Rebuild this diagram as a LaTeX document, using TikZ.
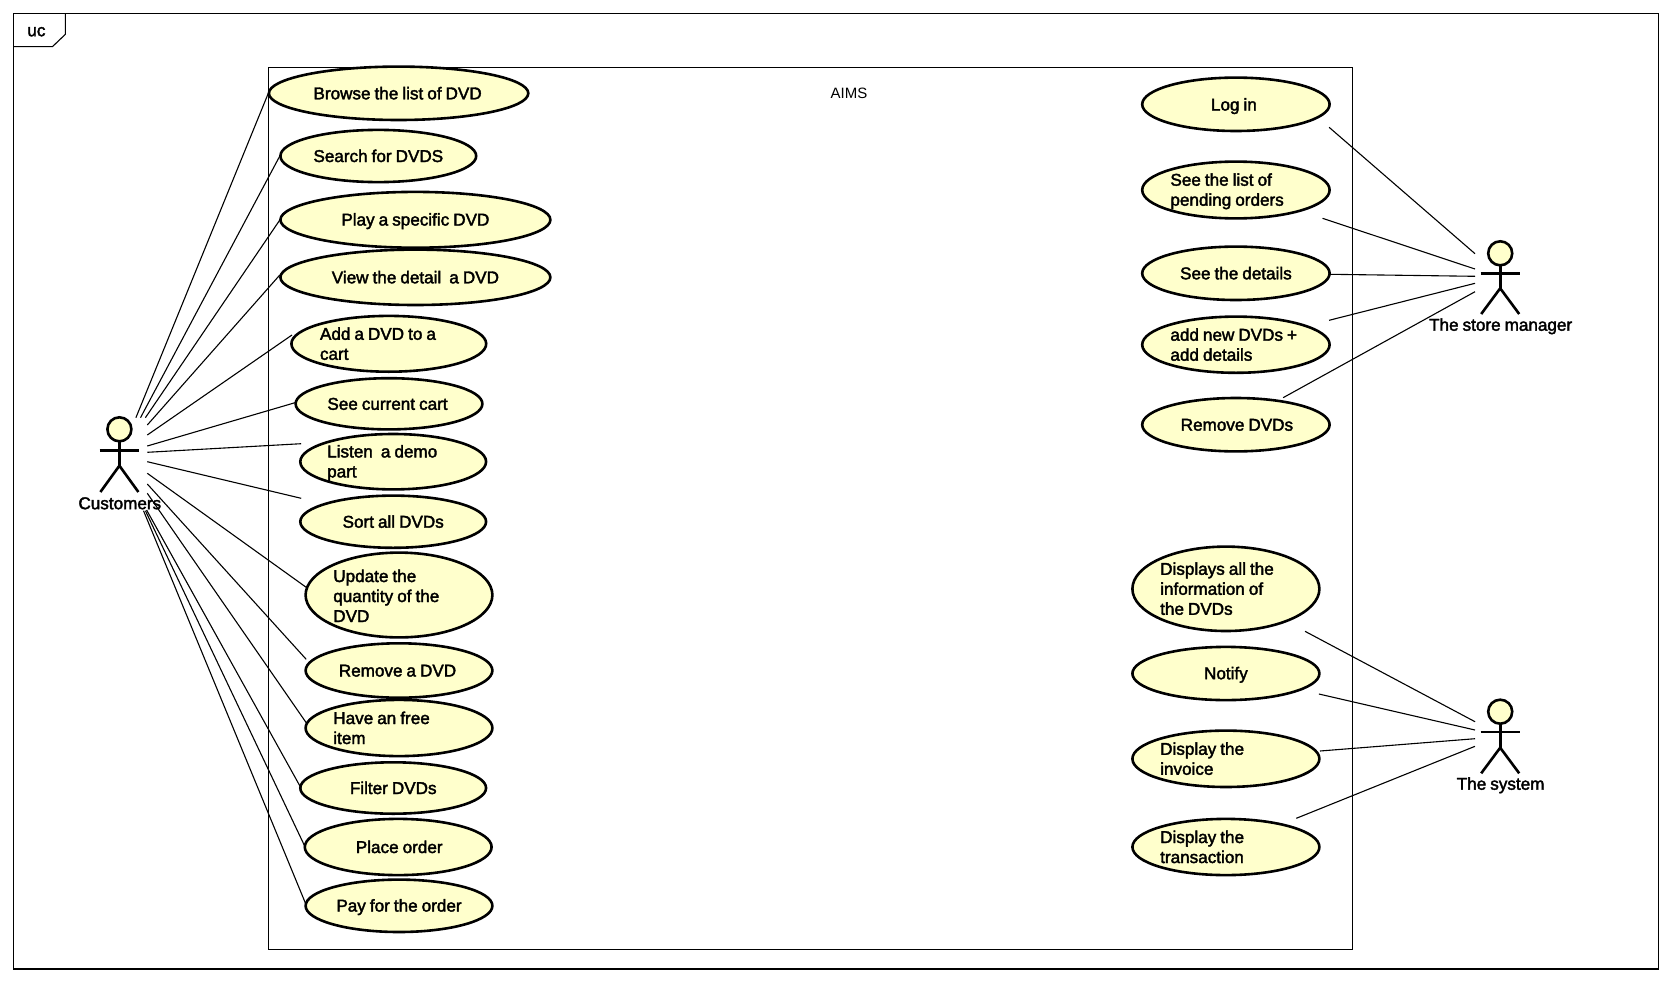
\documentclass[tikz,border=0pt]{standalone}
\usepackage{fontspec}
\usetikzlibrary{shapes.geometric}
\setmainfont{Liberation Sans}
\newfontfamily\lblfont[FakeBold=2.2,WordSpace=0.85]{Liberation Sans}
\definecolor{ucfill}{HTML}{FFFFCC}
\tikzset{
  x=1pt,y=-1pt,
  ucase/.style={ellipse,draw=black,fill=ucfill,line width=2.6pt,inner sep=-2pt,outer sep=0pt,
    font=\lblfont\fontsize{17.1}{20}\selectfont,text=black,
    execute at begin node={\rule{0pt}{15pt}},
    execute at end node={\rule[-3pt]{0pt}{3pt}}},
  mline/.style={align=flush left},
  wire/.style={line width=1.1pt,draw=black},
  limb/.style={line width=2.6pt,draw=black},
  head/.style={circle,draw=black,fill=ucfill,line width=2.6pt,minimum size=24pt,inner sep=0pt,outer sep=0pt},
  actorname/.style={font=\lblfont\fontsize{17.1}{20}\selectfont,text=black,inner sep=0pt},
  framebox/.style={line width=1.1pt,draw=black},
}
\newcommand{\usecase}[7][]{%
  \node[ucase,minimum width=#5*2pt-1.2pt,minimum height=#6*2pt-1.2pt,#1] (#2) at (#3,#4) {#7};}
\newcommand{\stickman}[6]{% name, x, head y, arm y, hip y, feet y
  \draw[limb] (#2,#3) -- (#2,#5);
  \draw[limb] (#2-19.7,#4) -- (#2+19.7,#4);
  \draw[limb] (#2-19,#6) -- (#2,#5) -- (#2+19,#6);
  \node[head] (#1) at (#2,#3) {};}
\newcommand{\link}[6]{\draw[wire] ([shift={(#2,#3)}]#1.center) -- ([shift={(#5,#6)}]#4.center);}
\begin{document}
\begin{tikzpicture}
\useasboundingbox (0,0) rectangle (1672,982);
% outer frame
\draw[framebox] (13.4,13.7) rectangle (1658.5,969);
\draw[framebox] (13.4,46.7) -- (52.4,46.7) -- (65.4,34.3) -- (65.4,13.7);
\node[font=\lblfont\fontsize{17.1}{20}\selectfont,inner sep=0pt] (uc) at (36.4,31.7) {uc};
% system boundary
\draw[framebox] (268.3,67.3) rectangle (1352.5,949.3);
\node[font=\fontsize{15}{20}\selectfont,inner sep=0pt] (aims) at (849,93.3) {AIMS};
% left use cases
\usecase{u1}{398.6}{93.3}{130.3}{27.3}{\kern-2pt Browse the list of DVD}
\usecase{u2}{378.3}{156}{98.5}{26.7}{Search for DVDS}
\usecase{u3}{415.4}{219.8}{135.6}{28.5}{Play a specific DVD}
\usecase{u4}{415.4}{277.3}{135.6}{28.3}{View the detail\ \ a DVD}
\usecase[mline,text width=137.6pt]{u5}{388.8}{343.8}{98}{28.5}{Add a DVD to a\\cart}
\usecase{u6}{389}{403.8}{94}{26.2}{\kern-3pt See current cart}
\usecase[mline,text width=132pt]{u7}{393.2}{461.7}{93.5}{28.3}{Listen\ \ a demo\\part}
\usecase{u8}{393.2}{521.7}{93.5}{26.7}{Sort all DVDs}
\usecase[mline,text width=131.4pt]{u9}{399}{595}{94}{43}{\rule{0pt}{17pt}Update the\\quantity of the\\DVD}
\usecase{u10}{399}{670.5}{94}{27.8}{\kern-3pt Remove a DVD}
\usecase[mline,text width=131.4pt]{u11}{399}{728}{94}{28.7}{Have an free\\item}
\usecase{u12}{393.2}{788}{93.5}{26.3}{Filter DVDs}
\usecase{u13}{398.2}{847}{94}{28.7}{\kern2pt Place order}
\usecase{u14}{399}{905.8}{94}{26.8}{Pay for the order}
% store manager use cases
\usecase{m1}{1235.9}{104.3}{94.3}{27.3}{\kern-4pt\raisebox{-1pt}{Log in}}
\usecase[mline,text width=131pt]{m2}{1235.9}{190}{94.3}{29}{See the list of\\pending orders}
\usecase{m3}{1235.9}{273.3}{94.3}{27.3}{See the details}
\usecase[mline,text width=131pt]{m4}{1235.9}{344.7}{94.3}{28.7}{add new DVDs +\\add details}
\usecase{m5}{1235.9}{424.7}{94.3}{27.3}{\kern2pt Remove DVDs}
% system use cases
\usecase[mline,text width=131.4pt]{s1}{1225.9}{588.8}{94.1}{42.8}{Displays all the\\information of\\the DVDs}
\usecase{s2}{1225.9}{673.5}{94.1}{27.2}{Notify}
\usecase[mline,text width=131.4pt]{s3}{1225.9}{758.8}{94.1}{28.8}{Display the\\invoice}
\usecase[mline,text width=131.4pt]{s4}{1225.9}{847}{94.1}{28.7}{Display the\\transaction}
% actors
\stickman{cust}{119.4}{429.3}{450.3}{465.7}{492}
\node[actorname] (custname) at (119.8,503.3) {Customers};
\stickman{mgr}{1500.2}{253.3}{273.3}{288.3}{314}
\node[actorname] (mgrname) at (1500.6,326.3) {The store manager};
\stickman{sys}{1500.2}{711.7}{732}{747.7}{773.3}
\node[actorname] (sysname) at (1500.6,785.3) {The system};
% connectors
\link{cust}{16.5}{-11.6}{u1}{-130.3}{0}
\link{cust}{21.1}{-11.6}{u2}{-98.5}{0}
\link{cust}{26}{-11.6}{u3}{-135.6}{0.2}
\link{cust}{27.9}{-4.3}{u4}{-135.6}{-2.3}
\link{cust}{27.9}{5.7}{u5}{-96.8}{-8.8}
\link{cust}{27.9}{16.7}{u6}{-94}{-1.1}
\link{cust}{27.9}{23}{u7}{-92}{-18}
\link{cust}{27.9}{32.4}{u8}{-92}{-23.4}
\link{cust}{27.9}{44}{u9}{-92.8}{-7.7}
\link{cust}{27.9}{54.7}{u10}{-92.8}{-11.2}
\link{cust}{27.9}{64}{u11}{-92.8}{-5.3}
\link{cust}{27.2}{80.7}{u12}{-92}{0.3}
\link{cust}{26}{81.4}{u13}{-93.2}{-0.3}
\link{cust}{24.1}{81.4}{u14}{-92.8}{-0.8}
\link{mgr}{-25.2}{0.4}{m1}{93.2}{23}
\link{mgr}{-25.2}{15.7}{m2}{86.6}{28.3}
\link{mgr}{-25.2}{23}{m3}{94.3}{1}
\link{mgr}{-25.2}{30}{m4}{93.2}{-24.4}
\link{mgr}{-25.2}{38.4}{m5}{47.2}{-27}
\link{sys}{-25.2}{10}{s1}{79.1}{42.5}
\link{sys}{-25.2}{18.3}{s2}{93}{20.5}
\link{sys}{-25.2}{27}{s3}{94.1}{-7.8}
\link{sys}{-25.2}{34.6}{s4}{70.4}{-28.7}
\end{tikzpicture}
\end{document}
